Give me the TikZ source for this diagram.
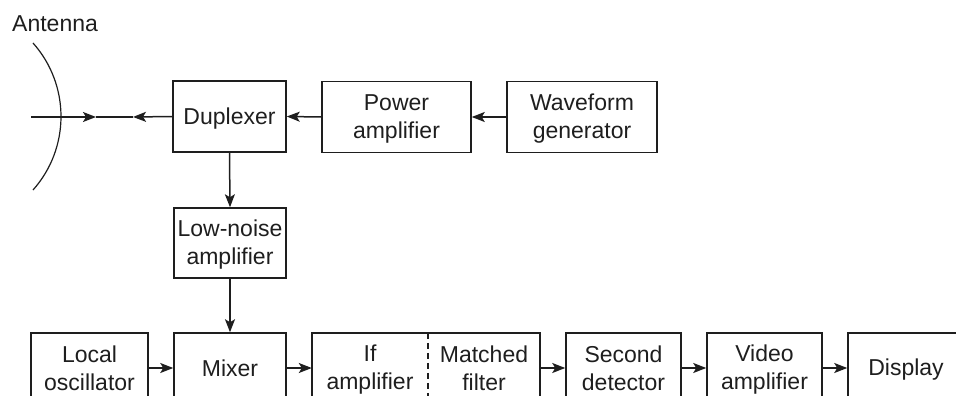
\documentclass[tikz,border=0pt]{standalone}
\usepackage{fontspec}
\setmainfont{Liberation Sans}
\usetikzlibrary{arrows.meta}
\definecolor{ink}{HTML}{1E1E1E}
\newcommand{\mystrut}{\rule[-4pt]{0pt}{24pt}}
\begin{document}
\begin{tikzpicture}[x=1pt,y=-1pt,
  every node/.style={font=\fontsize{23}{28}\selectfont, text=ink},
  blockbox/.style={draw=ink, line width=1.5pt, minimum height=70pt, inner sep=0pt, align=center},
  plainbox/.style={minimum height=70pt, inner sep=0pt, align=center},
  wire/.style={draw=ink, line width=1.5pt},
  arr/.style={wire, -{Stealth[length=13pt,width=10pt,inset=3pt]}}]
\useasboundingbox (0,0) rectangle (956,396);
\clip (0,0) rectangle (956,396);
% top row
\node[blockbox, minimum width=113pt, minimum height=71pt] (dup) at (229.5,116.5) {\mystrut Duplexer\mystrut};
\node[blockbox, minimum width=149pt, minimum height=71pt] (pa) at (396.5,117) {\mystrut Power\\amplifier\mystrut};
\node[blockbox, minimum width=150pt, minimum height=71pt] (wg) at (582,117) {\mystrut Waveform\\generator\mystrut};
\node[blockbox, minimum width=112pt] (lna) at (230,243) {\mystrut Low-noise\\amplifier\mystrut};
% bottom row
\node[blockbox, minimum width=117pt] (lo) at (89.5,368) {\mystrut Local\\oscillator\mystrut};
\node[blockbox, minimum width=112pt] (mix) at (230,368) {\mystrut Mixer\mystrut};
\node[plainbox, minimum width=116pt] (ifa) at (370,368) {\mystrut If\\amplifier\mystrut};
\node[plainbox, minimum width=112pt] (mf) at (484,368) {\mystrut Matched\\filter\mystrut};
\draw[wire] (ifa.north west) rectangle (mf.south east);
\draw[wire, dash pattern=on 6pt off 4pt] (ifa.north east) -- (ifa.south east);
\node[blockbox, minimum width=115pt] (sd) at (623.5,368) {\mystrut Second\\detector\mystrut};
\node[blockbox, minimum width=115pt] (va) at (764.5,368) {\mystrut Video\\amplifier\mystrut};
\node[blockbox, minimum width=116pt] (disp) at (906,368) {\mystrut Display\mystrut};
% antenna
\node[anchor=base west, inner sep=0pt] (antlabel) at (12,32) {Antenna};
\draw[ink, line width=1.2pt] (33,43) arc[start angle=-41.7, end angle=41.7, radius=110.5];
\coordinate (feed) at (31,117);
\coordinate (tipin) at (96,117);
\coordinate (tipout) at (133,117);
\draw[arr] (feed) -- (tipin);
\draw[wire] (tipin) -- (tipout);
\draw[arr] (dup.west) -- (tipout);
% connectors
\draw[arr] (pa.west) -- (dup.east);
\draw[arr] (wg.west) -- (pa.east);
\draw[arr] (dup.south) -- (lna.north);
\draw[arr] (lna.south) -- (mix.north);
\draw[arr] (lo.east) -- (mix.west);
\draw[arr] (mix.east) -- (ifa.west);
\draw[arr] (mf.east) -- (sd.west);
\draw[arr] (sd.east) -- (va.west);
\draw[arr] (va.east) -- (disp.west);
\end{tikzpicture}
\end{document}
